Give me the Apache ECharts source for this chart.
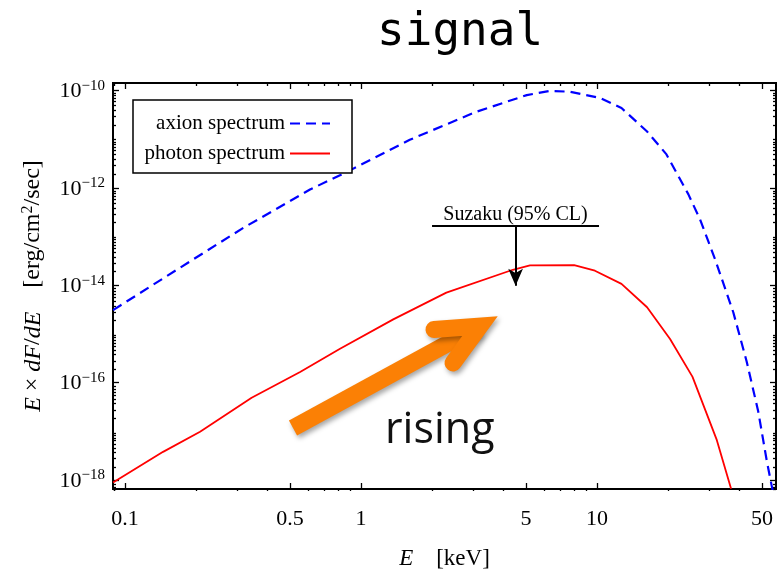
<!DOCTYPE html>
<html><head><meta charset="utf-8">
<script src="https://cdn.jsdelivr.net/npm/echarts@6/dist/echarts.min.js"></script>
<style>html,body{margin:0;padding:0;background:#fff}#c{width:778px;height:575px}</style>
</head><body><div id="c"></div>
<script>
// ---- data ----
const axionEnergy = [0.089, 0.166, 0.316, 0.608, 0.898, 1.61, 3.09, 5.04, 6.31, 7.69, 10.3, 12.7, 16.3, 19.7, 24.4, 27.3, 31.6, 37.8, 43.1, 48.2, 52.4, 55.0, 56.2];
const axionFlux = [3.1e-15, 2.1e-14, 1.5e-13, 9.3e-13, 2.3e-12, 9.8e-12, 3.7e-11, 8.1e-11, 9.9e-11, 9.5e-11, 7.1e-11, 4.4e-11, 1.45e-11, 4.9e-12, 7.4e-13, 2.3e-13, 3.5e-14, 2.8e-15, 2.7e-16, 2.6e-17, 2.5e-18, 7.6e-19, 4.6e-19];
const photonEnergy = [0.089, 0.145, 0.208, 0.344, 0.552, 0.815, 1.37, 2.3, 4.4, 5.2, 8.0, 9.8, 12.7, 16.3, 20.4, 25.4, 32.2, 37.0];
const photonFlux = [8.9e-19, 3.8e-18, 9.8e-18, 4.9e-17, 1.66e-16, 5.0e-16, 2.0e-15, 7.1e-15, 2.09e-14, 2.57e-14, 2.6e-14, 2.0e-14, 1.07e-14, 3.55e-15, 7.9e-16, 1.32e-16, 6.6e-18, 6.6e-19];
const suzakuEnergyRange = [2, 10.2];
const suzakuFlux = 1.71e-13;
const suzakuArrowEnergy = 4.52;
const suzakuArrowEnd = 9.8e-15;
const xRange = [0.08895, 57.35];
const yRange = [6.55e-19, 1.436e-10];
const xTickLabels = [0.1, 0.5, 1, 5, 10, 50];
const yTickLabels = [1e-18, 1e-16, 1e-14, 1e-12, 1e-10];

// ---- build ----
const L = Math.log10;
const pts = (xs, ys) => xs.map((x, i) => [L(x), L(ys[i])]);
const xMin = L(xRange[0]), xMax = L(xRange[1]);
const yMin = L(yRange[0]), yMax = L(yRange[1]);
const xMajor = xTickLabels.map(L);
const yMajor = yTickLabels.map(L);
function minors(kFrom, kTo, majors, lo, hi) {
  const out = [];
  for (let k = kFrom; k <= kTo; k++) for (let m = 1; m <= 9; m++) {
    const v = L(m) + k;
    if (v < lo || v > hi) continue;
    if (majors.some(a => Math.abs(a - v) < 1e-6)) continue;
    out.push(v);
  }
  return out;
}
const xMinor = minors(-2, 1, xMajor, xMin, xMax);
const yMinor = minors(-19, -10, yMajor, yMin, yMax);

const SERIF = 'Liberation Serif';
const tickStyle = {color: '#000', width: 1.3};
const gridBox = {left: 113, top: 83, width: 663, height: 408};

function tickAxis(grid, pos, vals, len, min, max) {
  return {
    type: 'value', gridIndex: grid, position: pos, min: min, max: max,
    axisLine: {show: false, onZero: false}, splitLine: {show: false},
    axisTick: {show: true, inside: true, length: len, customValues: vals, lineStyle: tickStyle},
    axisLabel: {show: false}
  };
}

const xLabelAxis = tickAxis(0, 'bottom', xMajor, 6, xMin, xMax);
xLabelAxis.axisLabel = {
  show: true, customValues: xMajor, margin: 19,
  fontFamily: SERIF, fontSize: 22, color: '#000',
  formatter: v => String(parseFloat(Math.pow(10, v).toPrecision(3)))
};
xLabelAxis.name = '{i|E}    [keV]';
xLabelAxis.nameLocation = 'middle';
xLabelAxis.nameGap = 58;
xLabelAxis.nameTextStyle = {fontFamily: SERIF, fontSize: 23, color: '#000',
  rich: {i: {fontFamily: SERIF, fontSize: 23, fontStyle: 'italic', color: '#000'}}};

const yLabelAxis = tickAxis(0, 'left', yMajor, 6, yMin, yMax);
yLabelAxis.axisLabel = {
  show: true, customValues: yMajor, margin: 8,
  formatter: v => '{b|10}{s|\u2212' + Math.round(-v) + '}',
  rich: {
    b: {fontFamily: SERIF, fontSize: 22, color: '#000', verticalAlign: 'bottom'},
    s: {fontFamily: SERIF, fontSize: 15, color: '#000', verticalAlign: 'bottom', padding: [0, 0, 9, 0]}
  }
};
yLabelAxis.name = '{i|E} \u00d7 {i|dF}/{i|dE}    [erg/cm{s|2}/sec]';
yLabelAxis.nameLocation = 'middle';
yLabelAxis.nameGap = 67;
yLabelAxis.nameTextStyle = {fontFamily: SERIF, fontSize: 24, color: '#000',
  rich: {
    i: {fontFamily: SERIF, fontSize: 24, fontStyle: 'italic', color: '#000', verticalAlign: 'bottom'},
    s: {fontFamily: SERIF, fontSize: 16, color: '#000', verticalAlign: 'bottom', padding: [0, 0, 10, 0]}
  }};

const option = {
  animation: false,
  backgroundColor: '#fff',
  title: {
    text: 'signal', left: 372, top: 5,
    textStyle: {fontFamily: 'DejaVu Sans Mono', fontSize: 46, fontWeight: 'normal', color: '#000'}
  },
  grid: [
    Object.assign({show: true, borderColor: '#000', borderWidth: 2, backgroundColor: 'transparent'}, gridBox),
    Object.assign({show: false}, gridBox)
  ],
  xAxis: [
    xLabelAxis,
    tickAxis(0, 'top', xMajor, 6, xMin, xMax),
    tickAxis(1, 'bottom', xMinor, 3, xMin, xMax),
    tickAxis(1, 'top', xMinor, 3, xMin, xMax)
  ],
  yAxis: [
    yLabelAxis,
    tickAxis(0, 'right', yMajor, 6, yMin, yMax),
    tickAxis(1, 'left', yMinor, 3, yMin, yMax),
    tickAxis(1, 'right', yMinor, 3, yMin, yMax)
  ],
  legend: {
    orient: 'vertical', left: 133, top: 100, align: 'right',
    itemWidth: 40, itemHeight: 14, itemGap: 9,
    padding: [13, 21, 9, 7],
    borderColor: '#000', borderWidth: 1.5, backgroundColor: '#fff',
    itemStyle: {opacity: 0, borderWidth: 0},
    textStyle: {fontFamily: SERIF, fontSize: 21, color: '#000', width: 145, lineHeight: 20},
    data: ['axion spectrum', 'photon spectrum']
  },
  series: [
    {
      type: 'line', name: 'axion spectrum', xAxisIndex: 0, yAxisIndex: 0,
      data: pts(axionEnergy, axionFlux), symbol: 'none', clip: true,
      lineStyle: {color: '#0000ff', width: 2.2, type: [10, 6]},
      itemStyle: {color: '#0000ff'}, z: 3
    },
    {
      type: 'line', name: 'photon spectrum', xAxisIndex: 0, yAxisIndex: 0,
      data: pts(photonEnergy, photonFlux), symbol: 'none', clip: true,
      lineStyle: {color: '#ff0000', width: 1.8},
      itemStyle: {color: '#ff0000'}, z: 3,
      markLine: {
        silent: true, animation: false,
        lineStyle: {color: '#000', width: 2, type: 'solid'},
        data: [
          [
            {coord: [L(suzakuEnergyRange[0]), L(suzakuFlux)], symbol: 'none',
             label: {show: true, position: 'insideMiddleTop', distance: 1, formatter: 'Suzaku (95% CL)',
                     fontFamily: SERIF, fontSize: 20, color: '#000'}},
            {coord: [L(suzakuEnergyRange[1]), L(suzakuFlux)], symbol: 'none'}
          ],
          [
            {coord: [L(suzakuArrowEnergy), L(suzakuFlux)], symbol: 'none', label: {show: false}},
            {coord: [L(suzakuArrowEnergy), L(suzakuArrowEnd)], symbol: 'arrow', symbolSize: [11, 17]}
          ]
        ]
      }
    }
  ],
  graphic: [
    {type: 'polyline', z: 100, shape: {points: [[293, 428], [478, 327]]},
     style: {stroke: '#fb8005', lineWidth: 17, lineCap: 'butt', fill: null,
             shadowBlur: 5, shadowColor: 'rgba(0,0,0,0.35)', shadowOffsetX: 2, shadowOffsetY: 3}},
    {type: 'polyline', z: 100, shape: {points: [[434, 329.5], [480, 326], [453, 363]]},
     style: {stroke: '#fb8005', lineWidth: 17, lineCap: 'round', lineJoin: 'miter', fill: null,
             shadowBlur: 5, shadowColor: 'rgba(0,0,0,0.35)', shadowOffsetX: 2, shadowOffsetY: 3}},
    {type: 'text', z: 100, x: 385, y: 431,
     style: {text: 'rising', fontFamily: 'Open Sans', fontSize: 43, fill: '#111', verticalAlign: 'middle'}}
  ]
};

const chart = echarts.init(document.getElementById('c'), null, {renderer: 'canvas'});
chart.setOption(option);
</script>
</body></html>
